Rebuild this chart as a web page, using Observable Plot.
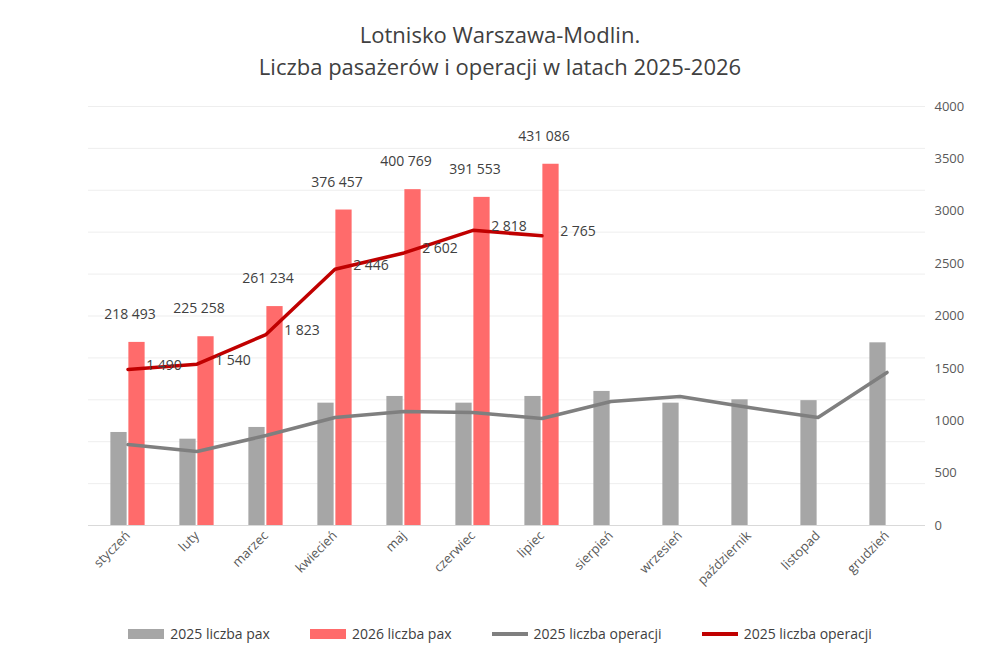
<!DOCTYPE html>
<html><head><meta charset="utf-8">
<script src="https://cdn.jsdelivr.net/npm/d3@7"></script>
<script src="https://cdn.jsdelivr.net/npm/@observablehq/plot@0.6"></script>
<style>
body{margin:0;background:#fff;font-family:"Open Sans",sans-serif;}
#title{height:90px;text-align:center;font-size:22px;color:#404040;line-height:32px;padding-top:18px;box-sizing:border-box;}
#legend{display:flex;justify-content:center;gap:40px;font-size:14px;color:#404040;margin-top:14px;}
#legend span{display:inline-flex;align-items:center;gap:6px;}
</style></head><body>
<div id="title">Lotnisko Warszawa-Modlin.<br>Liczba pasażerów i operacji w latach 2025-2026</div>
<div id="chart"></div>
<div id="legend">
<span><i style="display:inline-block;width:36px;height:10px;background:#a6a6a6"></i>2025 liczba pax</span>
<span><i style="display:inline-block;width:36px;height:10px;background:#ff6b6b"></i>2026 liczba pax</span>
<span><i style="display:inline-block;width:36px;height:4px;background:#7f7f7f"></i>2025 liczba operacji</span>
<span><i style="display:inline-block;width:36px;height:4px;background:#c00000"></i>2025 liczba operacji</span>
</div>
<script>
const months = ["styczeń","luty","marzec","kwiecień","maj","czerwiec","lipiec","sierpień","wrzesień","październik","listopad","grudzień"];
const pax2025 = [111000,103000,117000,146000,154000,146000,154000,160000,146000,150000,149000,218000];
const pax2026 = [218493,225258,261234,376457,400769,391553,431086];
const ops2025 = [773,706,859,1031,1088,1079,1021,1184,1231,1126,1031,1461];
const ops2026 = [1490,1540,1823,2446,2602,2818,2765];
const K = 125;
const fmt = d => d === 0 ? "-" : d3.format(",")(d).replace(/,/g, " ");
const g = months.map((m,i)=>({m, v:pax2025[i], o:ops2025[i]}));
const r = pax2026.map((v,i)=>({m:months[i], v, o:ops2026[i]}));
const W=1000, bw=(W-88-75)/12, bar=17, inset=(bw-bar)/2;
const chart = Plot.plot({
  width:W, height:520, marginLeft:88, marginRight:75, marginTop:16, marginBottom:85,
  style:{fontFamily:"Open Sans, sans-serif", fontSize:"13px", color:"#595959"},
  x:{domain:months, padding:0, label:null, tickRotate:-45, tickSize:0, tickPadding:8},
  y:{domain:[0,500000], ticks:d3.range(0,500001,50000), label:null, tickFormat:fmt, tickSize:0, grid:true},
  marks:[
    Plot.barY(g,{x:"m",y:"v",fill:"#a6a6a6",insetLeft:inset,insetRight:inset,dx:-9}),
    Plot.barY(r,{x:"m",y:"v",fill:"#ff6b6b",insetLeft:inset,insetRight:inset,dx:9}),
    Plot.line(g,{x:"m",y:d=>d.o*K,stroke:"#7f7f7f",strokeWidth:3.5}),
    Plot.line(r,{x:"m",y:d=>d.o*K,stroke:"#c00000",strokeWidth:3.5}),
    Plot.text(r,{x:"m",y:"v",text:d=>fmt(d.v),dx:2,dy:-28,fontSize:14,fill:"#404040"}),
    Plot.text(r,{x:"m",y:d=>d.o*K,text:d=>fmt(d.o),dx:36,dy:-4,fontSize:14,fill:"#404040"}),
    Plot.axisY({anchor:"right", ticks:d3.range(0,4001,500).map(v=>v*K), tickFormat:d=>String(d/K), tickSize:0, label:null}),
    Plot.ruleY([0],{stroke:"#d9d9d9"})
  ]
});
document.getElementById("chart").append(chart);
</script></body></html>
